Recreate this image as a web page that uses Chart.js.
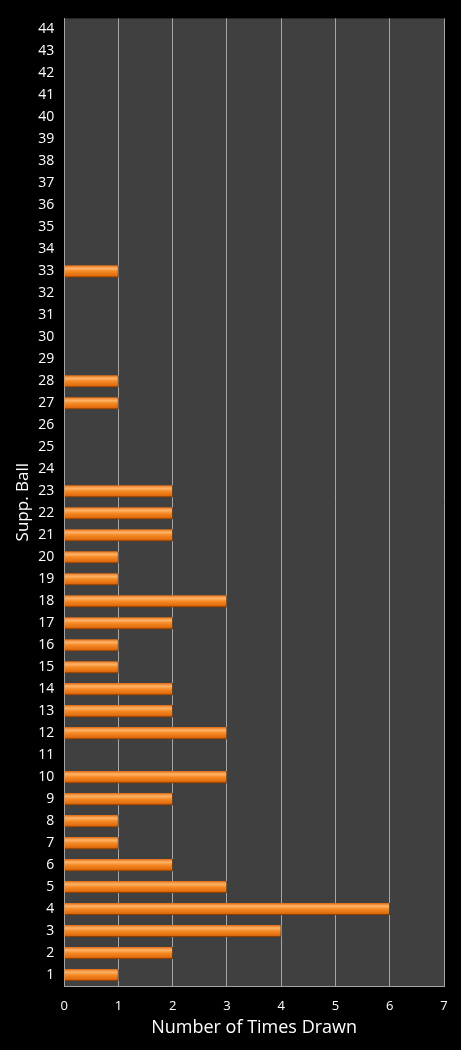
<!DOCTYPE html>
<html>
<head>
<meta charset="utf-8">
<script src="https://cdn.jsdelivr.net/npm/chart.js@4/dist/chart.umd.min.js"></script>
<style>
  html, body { margin: 0; padding: 0; background: #000; }
  #wrap { width: 461px; height: 1050px; }
</style>
</head>
<body>
<div id="wrap"><canvas id="grafico"></canvas></div>
<script>
// Supplementary ball numbers and how often each was drawn
const bolas = ['1','2','3','4','5','6','7','8','9','10','11','12','13','14','15','16','17','18','19','20','21','22',
  '23','24','25','26','27','28','29','30','31','32','33','34','35','36','37','38','39','40','41','42','43','44'];
const vezes = [1, 2, 4, 6, 3, 2, 1, 1, 2, 3, 0, 3, 2, 2, 1, 1, 2, 3, 1, 1, 2, 2,
  2, 0, 0, 0, 1, 1, 0, 0, 0, 0, 1, 0, 0, 0, 0, 0, 0, 0, 0, 0, 0, 0];
const xTicks = [0, 1, 2, 3, 4, 5, 6, 7];

const FONT = 'Open Sans, Liberation Sans, sans-serif';
const BAR_H = 12;

// vertical gradient per bar so it looks like the glossy tube bars
function barGradient(c) {
  const chart = c.chart;
  const ys = chart.scales.y;
  if (!chart.chartArea || !ys) return '#f07f1a';
  const y = ys.getPixelForValue(c.dataIndex);
  const g = chart.ctx.createLinearGradient(0, y - BAR_H / 2, 0, y + BAR_H / 2);
  g.addColorStop(0, '#e06a10');
  g.addColorStop(0.25, '#ffb56a');
  g.addColorStop(0.5, '#f58a26');
  g.addColorStop(0.85, '#e36c0d');
  g.addColorStop(1, '#b25206');
  return g;
}

// dark grey plot background
const plotBg = {
  id: 'plotBg',
  beforeDraw(chart) {
    const a = chart.chartArea;
    const ctx = chart.ctx;
    ctx.save();
    ctx.fillStyle = '#404040';
    ctx.fillRect(a.left, a.top, a.right - a.left, a.bottom - a.top);
    ctx.restore();
  }
};

const ctx = document.getElementById('grafico').getContext('2d');
const chart = new Chart(ctx, {
  type: 'bar',
  data: {
    labels: bolas,
    datasets: [{
      label: 'Number of Times Drawn',
      data: vezes,
      backgroundColor: barGradient,
      borderColor: '#7a3a05',
      borderWidth: { top: 0, left: 0, right: 1, bottom: 1 },
      borderSkipped: 'start',
      barThickness: BAR_H
    }]
  },
  options: {
    indexAxis: 'y',
    responsive: true,
    maintainAspectRatio: false,
    animation: false,
    layout: { padding: { top: 16, right: 17, left: 18, bottom: 19 } },
    plugins: {
      legend: { display: false },
      tooltip: { enabled: false }
    },
    scales: {
      x: {
        min: 0,
        max: 7,
        afterBuildTicks(axis) { axis.ticks = xTicks.map(v => ({ value: v })); },
        grid: { color: '#a6a6a6', lineWidth: 1, drawTicks: false },
        border: { color: '#a6a6a6', width: 1 },
        ticks: { color: '#fff', font: { family: FONT, size: 13 }, padding: 12 },
        title: {
          display: true,
          text: 'Number of Times Drawn',
          color: '#fff',
          font: { family: FONT, size: 18, lineHeight: 0.3 },
          padding: 0
        }
      },
      y: {
        reverse: true,
        grid: { display: false, drawTicks: false },
        border: { color: '#a6a6a6', width: 1 },
        ticks: { color: '#fff', font: { family: FONT, size: 14 }, padding: 10, autoSkip: false },
        title: {
          display: true,
          text: 'Supp. Ball',
          color: '#fff',
          font: { family: FONT, size: 17, lineHeight: 0.6 },
          padding: 0
        }
      }
    }
  },
  plugins: [plotBg]
});
</script>
</body>
</html>
